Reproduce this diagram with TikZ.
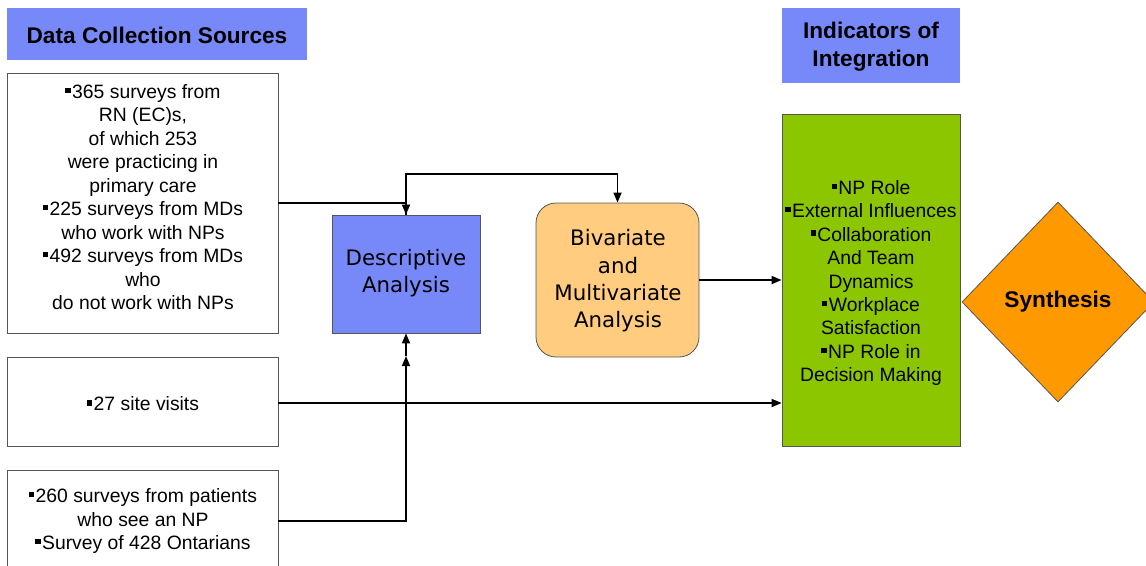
\documentclass[tikz,border=0pt]{standalone}
\usepackage{fontspec}
\setmainfont{Liberation Sans}
\newfontfamily\dvsans{DejaVu Sans}
\usetikzlibrary{shapes.geometric,arrows.meta,fit}

\definecolor{periwinkle}{RGB}{119,137,248}
\definecolor{peach}{RGB}{255,204,128}
\definecolor{limegreen}{RGB}{140,198,0}
\definecolor{tangerine}{RGB}{255,153,0}
\definecolor{edgegray}{RGB}{85,85,85}

% small square bullet
\newcommand{\sqbul}{\rule[0.28em]{0.27em}{0.27em}\kern0.08em}

\tikzset{
  heading/.style={fill=periwinkle, inner sep=0pt},
  headtext/.style={inner sep=0pt, align=center,
    font=\bfseries\fontsize{17}{21}\selectfont},
  srcbox/.style={draw=edgegray, line width=0.6pt, fill=white, inner sep=0pt},
  bodytext/.style={align=center, inner sep=0pt, font=\fontsize{14.5}{17.6}\selectfont},
  analysis/.style={draw=edgegray, line width=0.6pt, inner sep=0pt},
  analysistext/.style={inner sep=0pt, align=center,
    font=\dvsans\fontsize{16}{20.5}\selectfont},
  conn/.style={line width=1.25pt, -{Triangle[length=7.5pt,width=6pt]}}
}

\begin{document}
\begin{tikzpicture}[x=0.75pt,y=-0.75pt]
\useasboundingbox (0,0) rectangle (1146,565);

% column headings
\node[heading, fit={(7,8) (307,60)}] (h1) {};
\node[headtext] (h1t) at (157,35) {Data Collection Sources};
\node[heading, fit={(782,8) (960,83)}] (h2) {};
\node[headtext] (h2t) at (871,47) {Indicators of\\Integration};

% data sources
\node[srcbox, fit={(7,73) (278,333)}] (b1) {};
\node[bodytext] (t1) at (143,197) {\sqbul365 surveys from\\RN (EC)s,\\of which 253\\were practicing in\\primary care\\\sqbul225 surveys from MDs\\who work with NPs\\\sqbul492 surveys from MDs\\who\\do not work with NPs};
\node[srcbox, fit={(7,357) (278,446)}] (b2) {};
\node[bodytext] (t2) at (143,404) {\sqbul27 site visits};
\node[srcbox, fit={(7,470) (278,572)}] (b3) {};
\node[bodytext] (t3) at (143,521) {\sqbul260 surveys from patients\\who see an NP\\\sqbul Survey of 428 Ontarians};

% analyses
\node[analysis, fill=periwinkle, fit={(332,215) (480,333)}] (desc) {};
\node[analysistext] (desct) at (406,273) {Descriptive\\Analysis};
\node[analysis, fill=peach, rounded corners=15pt, fit={(536,203) (699,357)}] (biv) {};
\node[analysistext] (bivt) at (618,281) {Bivariate\\and\\Multivariate\\Analysis};

% indicators
\node[srcbox, fill=limegreen, fit={(782,114) (960,446)}] (ind) {};
\node[bodytext] (t4) at (871,283) {\sqbul NP Role\\\sqbul External Influences\\\sqbul Collaboration\\And Team\\Dynamics\\\sqbul Workplace\\Satisfaction\\\sqbul NP Role in\\Decision Making};

% synthesis
\node[diamond, draw=edgegray, line width=0.6pt, fill=tangerine, inner sep=0pt,
  minimum width=144pt, minimum height=150pt,
  font=\bfseries\fontsize{17}{21}\selectfont] (syn) at (1058,302) {Synthesis};

% connectors
\coordinate (top) at (406,174);
\coordinate (mid) at (406,356);
\coordinate (siteout) at (278,403);
\draw[conn] (b1.east) -| (desc.north);
\draw[conn] (desc.north) -- (top) -| (biv.north);
\draw[conn] (biv.east) -- (biv.east -| ind.west);
\draw[conn] (siteout) -- (siteout -| ind.west);
\draw[conn] (b3.east) -| (mid);
\draw[conn] (mid) -- (desc.south);
\end{tikzpicture}
\end{document}
